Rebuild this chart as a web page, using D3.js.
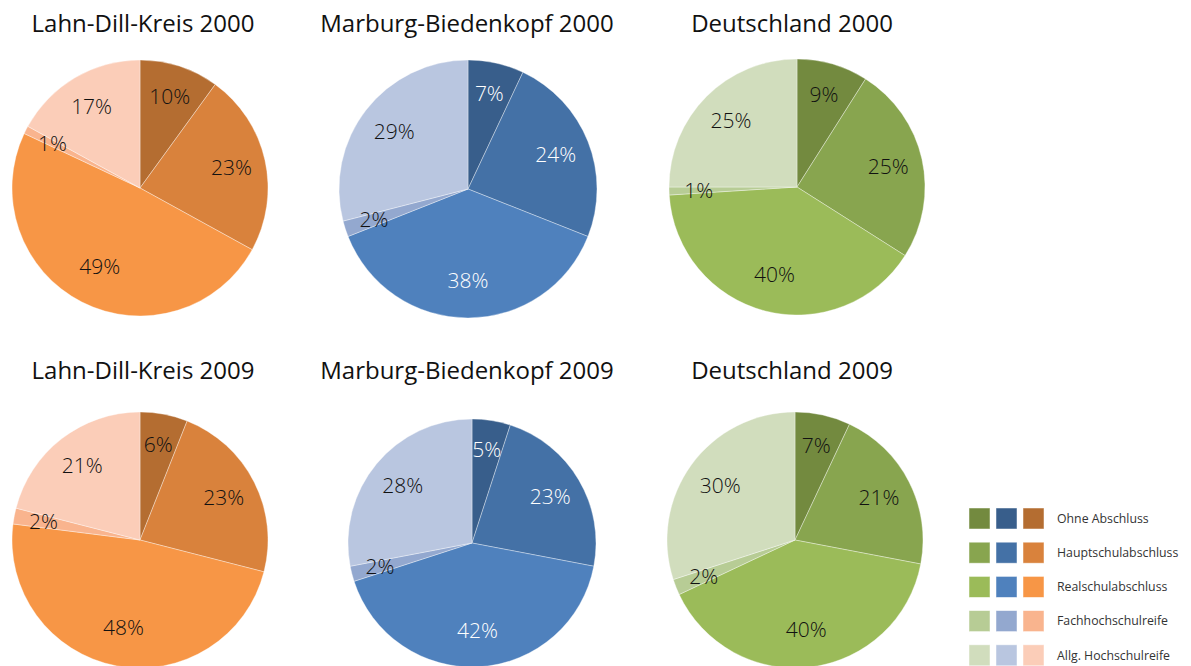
<!DOCTYPE html>
<html>
<head>
<meta charset="utf-8">
<script src="https://cdn.jsdelivr.net/npm/d3@7"></script>
<style>
  body { margin: 0; background: #fff; }
  svg { display: block; font-family: "Open Sans", "Noto Sans", sans-serif; }
</style>
</head>
<body>
<svg id="chart"></svg>
<script>
// categories (clockwise from 12 o'clock)
const categories = ['Ohne Abschluss', 'Hauptschulabschluss', 'Realschulabschluss', 'Fachhochschulreife', 'Allg. Hochschulreife'];

// shares in percent
const lahnDill2000 = [10, 23, 49, 1, 17];
const marburg2000  = [7, 24, 38, 2, 29];
const de2000       = [9, 25, 40, 1, 25];
const lahnDill2009 = [6, 23, 48, 2, 21];
const marburg2009  = [5, 23, 42, 2, 28];
const de2009       = [7, 21, 40, 2, 30];

const titles = ['Lahn-Dill-Kreis 2000', 'Marburg-Biedenkopf 2000', 'Deutschland 2000',
                'Lahn-Dill-Kreis 2009', 'Marburg-Biedenkopf 2009', 'Deutschland 2009'];

const greens  = ['#738a3f', '#88a54f', '#9bbb59', '#b7cc95', '#d1ddbd'];
const blues   = ['#385e8b', '#4471a6', '#4f81bd', '#93a8cf', '#b9c6e0'];
const oranges = ['#b46d31', '#d9823c', '#f79646', '#f9b48e', '#fbcdb8'];

const W = 1191, H = 666;
const svg = d3.select('#chart').attr('width', W).attr('height', H);

const charts = [
  {values: lahnDill2000, colors: oranges, cx: 140, cy: 188, r: 128, tx: 143, ty: 32, light: false},
  {values: marburg2000,  colors: blues,   cx: 468, cy: 189, r: 129, tx: 467, ty: 32, light: true},
  {values: de2000,       colors: greens,  cx: 797, cy: 187, r: 128, tx: 792, ty: 32, light: false},
  {values: lahnDill2009, colors: oranges, cx: 140, cy: 540, r: 128, tx: 143, ty: 379, light: false},
  {values: marburg2009,  colors: blues,   cx: 472, cy: 543, r: 124, tx: 467, ty: 379, light: true},
  {values: de2009,       colors: greens,  cx: 795, cy: 540, r: 128, tx: 792, ty: 379, light: false}
];

const pie = d3.pie().sort(null).value(d => d);

charts.forEach((c, i) => {
  const color = d3.scaleOrdinal().domain(categories).range(c.colors);
  const arc = d3.arc().innerRadius(0).outerRadius(c.r);

  svg.append('text')
    .attr('x', c.tx)
    .attr('y', c.ty)
    .attr('text-anchor', 'middle')
    .style('font-size', '24px')
    .style('fill', '#111')
    .text(titles[i]);

  const g = svg.append('g')
    .attr('transform', `translate(${c.cx}, ${c.cy})`);

  const arcs = pie(c.values);

  g.selectAll('path')
    .data(arcs)
    .enter()
    .append('path')
      .attr('d', arc)
      .attr('fill', (d, j) => color(categories[j]))
      .attr('stroke', 'rgba(255,255,255,0.45)')
      .attr('stroke-width', 0.8);

  g.selectAll('text')
    .data(arcs)
    .enter()
    .append('text')
      .attr('transform', d => {
        const share = d.data / 100;
        const lr = c.r * (0.77 - 0.16 * share);
        const a = (d.startAngle + d.endAngle) / 2;
        return `translate(${lr * Math.sin(a)}, ${-lr * Math.cos(a)})`;
      })
      .attr('text-anchor', 'middle')
      .attr('dy', '0.36em')
      .style('font-size', '21px')
      .style('font-weight', 300)
      .style('fill', (d, j) => (c.light && j < 3) ? '#fff' : '#111')
      .text(d => d.data + '%');
});

// legend
const legend = svg.append('g').attr('transform', 'translate(969, 508)');
const rowH = 34.2;
const palettes = [greens, blues, oranges];

categories.forEach((cat, i) => {
  const row = legend.append('g').attr('transform', `translate(0, ${i * rowH})`);
  palettes.forEach((p, k) => {
    row.append('rect')
      .attr('x', k * 27)
      .attr('y', 0)
      .attr('width', 21)
      .attr('height', 21)
      .attr('fill', p[i])
      .attr('stroke', 'rgba(255,255,255,0.6)')
      .attr('stroke-width', 0.8);
  });
  row.append('text')
    .attr('x', 88)
    .attr('y', 10.5)
    .attr('dy', '0.35em')
    .style('font-size', '12.3px')
    .style('fill', '#333')
    .text(cat);
});
</script>
</body>
</html>
